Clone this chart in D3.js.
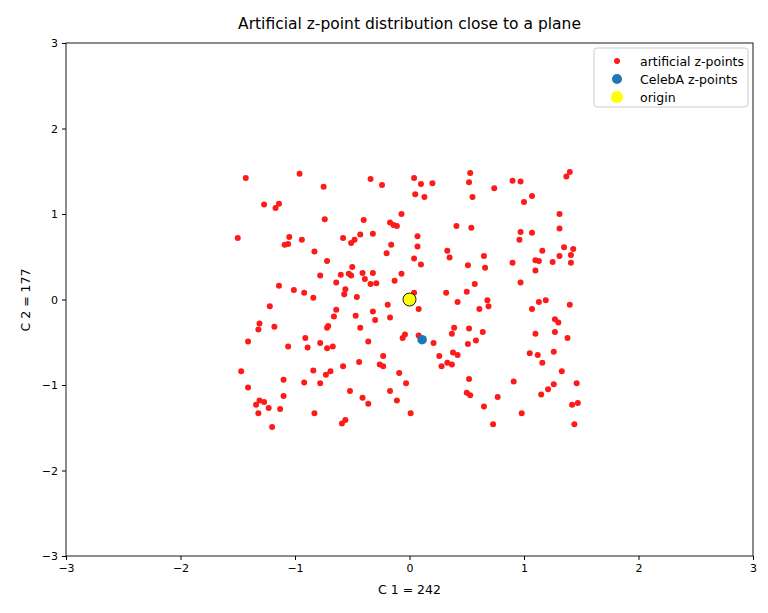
<!DOCTYPE html>
<html><head><meta charset="utf-8">
<script src="https://cdn.jsdelivr.net/npm/d3@7"></script>
<style>body{margin:0;background:#fff}svg{font-family:"DejaVu Sans",sans-serif}</style>
</head><body><svg id="c" width="768" height="613"></svg>
<script>
const artX=[-1.43,-0.96,-0.75,-0.34,-0.24,-1.27,-1.14,-1.17,-0.74,-0.40,-0.07,-0.17,-0.14,-0.11,-1.50,-1.05,-1.09,-1.06,-0.94,-0.58,-0.48,-0.51,-0.43,-0.32,-0.16,-0.20,-0.83,-0.72,-0.50,-0.78,-0.60,-0.53,-0.51,-0.41,-0.32,-0.07,-0.39,-0.64,-0.34,-0.29,-0.13,-1.14,-1.01,-0.92,-0.56,-0.57,-0.84,-0.46,
0.04,0.10,0.20,0.53,0.52,0.74,0.90,0.97,1.40,1.37,0.05,0.13,0.55,1.07,1.00,1.31,0.41,0.54,1.31,0.07,0.97,1.07,0.96,0.07,0.33,0.35,0.65,1.16,1.35,1.43,1.31,1.41,0.04,0.10,0.51,0.66,0.90,1.10,1.13,1.25,1.41,1.10,0.57,0.97,0.04,0.32,0.50,
-1.22,-0.64,-0.66,-0.47,-0.32,-0.30,-0.19,-0.17,-1.31,-1.32,-1.18,-0.71,-0.72,-0.43,-0.04,-0.06,-1.41,-1.06,-0.91,-0.89,-0.78,-0.72,-0.67,-0.36,-0.23,-0.26,-0.23,-0.44,-0.58,-0.84,-0.73,-0.69,-1.47,-1.10,-0.92,-0.78,-0.09,-0.03,-1.41,-0.52,-0.17,-1.10,-1.31,-1.27,-1.34,-1.23,-1.13,-0.41,-0.36,-0.11,-1.32,-0.83,-0.56,-0.59,-1.20,
0.08,0.42,0.61,0.69,0.68,1.13,1.19,1.07,1.40,1.27,1.30,0.08,0.21,0.39,0.52,0.37,0.64,0.58,0.51,1.10,1.27,1.38,0.26,0.38,0.42,0.33,0.37,0.28,1.05,1.12,1.26,1.16,1.33,0.52,0.91,1.46,1.26,1.21,1.15,0.50,0.53,0.77,0.65,1.42,1.47,0.01,0.98,0.73,1.44];
const artY=[1.42,1.47,1.32,1.41,1.34,1.11,1.12,1.07,0.94,0.93,1.00,0.90,0.87,0.86,0.72,0.73,0.64,0.65,0.70,0.72,0.70,0.66,0.76,0.77,0.64,0.54,0.56,0.45,0.38,0.28,0.29,0.30,0.28,0.31,0.31,0.30,0.24,0.20,0.18,0.19,0.22,0.16,0.11,0.08,0.12,0.06,0.02,0.03,
1.42,1.35,1.36,1.48,1.37,1.30,1.39,1.38,1.49,1.44,1.23,1.20,1.20,1.21,1.14,1.00,0.86,0.84,0.83,0.74,0.79,0.78,0.70,0.62,0.57,0.49,0.51,0.57,0.61,0.59,0.51,0.52,0.48,0.41,0.40,0.37,0.43,0.46,0.45,0.44,0.43,0.34,0.18,0.20,0.08,0.08,0.09,
-0.08,-0.12,-0.20,-0.19,-0.14,-0.24,-0.06,-0.21,-0.28,-0.35,-0.32,-0.31,-0.33,-0.33,-0.41,-0.45,-0.49,-0.55,-0.45,-0.56,-0.51,-0.57,-0.55,-0.49,-0.66,-0.76,-0.78,-0.73,-0.78,-0.83,-0.88,-0.84,-0.84,-0.94,-0.97,-0.98,-0.86,-0.98,-1.03,-1.07,-1.07,-1.13,-1.18,-1.20,-1.23,-1.27,-1.28,-1.15,-1.22,-1.18,-1.33,-1.33,-1.41,-1.45,-1.49,
-0.11,-0.03,-0.11,-0.08,-0.01,-0.03,-0.01,-0.11,-0.06,-0.23,-0.27,-0.42,-0.51,-0.33,-0.34,-0.40,-0.38,-0.48,-0.52,-0.40,-0.38,-0.45,-0.66,-0.62,-0.65,-0.74,-0.76,-0.78,-0.63,-0.65,-0.61,-0.74,-0.84,-0.93,-0.96,-0.98,-0.99,-1.05,-1.11,-1.09,-1.12,-1.14,-1.25,-1.23,-1.21,-1.33,-1.33,-1.46,-1.46];
const celebX=[0.11], celebY=[-0.47];
const originX=[0], originY=[0];
const ticks=[-3,-2,-1,0,1,2,3];
const svg=d3.select("#c");
const L=66,R=753,T=43,B=556;
const x=d3.scaleLinear().domain([-3,3]).range([L,R]);
const y=d3.scaleLinear().domain([-3,3]).range([B,T]);
svg.append("g").attr("transform",`translate(0,${B})`).call(d3.axisBottom(x).tickValues(ticks).tickSize(4).tickPadding(4).tickFormat(d=>d<0?"−"+(-d):d))
 .call(g=>{g.select(".domain").remove();g.selectAll("text").attr("font-size",11).attr("font-family","DejaVu Sans").attr("fill","#000");});
svg.append("g").attr("transform",`translate(${L},0)`).call(d3.axisLeft(y).tickValues(ticks).tickSize(4).tickPadding(4).tickFormat(d=>d<0?"−"+(-d):d))
 .call(g=>{g.select(".domain").remove();g.selectAll("text").attr("font-size",11).attr("font-family","DejaVu Sans").attr("fill","#000");});
svg.append("rect").attr("x",L).attr("y",T).attr("width",R-L).attr("height",B-T).attr("fill","none").attr("stroke","#000").attr("stroke-width",0.9);
svg.append("g").selectAll("circle").data(artX.map((v,i)=>[v,artY[i]])).join("circle")
 .attr("cx",d=>x(d[0])).attr("cy",d=>y(d[1])).attr("r",3).attr("fill","#ff1a1a");
svg.append("g").selectAll("circle").data(celebX.map((v,i)=>[v,celebY[i]])).join("circle")
 .attr("cx",d=>x(d[0])).attr("cy",d=>y(d[1])).attr("r",4.8).attr("fill","#1f77b4");
svg.append("g").selectAll("circle").data(originX.map((v,i)=>[v,originY[i]])).join("circle")
 .attr("cx",d=>x(d[0])).attr("cy",d=>y(d[1])).attr("r",6.5).attr("fill","#ffff00").attr("stroke","#000").attr("stroke-width",0.9);
svg.append("text").attr("x",(L+R)/2).attr("y",29).attr("text-anchor","middle").attr("font-size",15.5).text("Artificial z-point distribution close to a plane");
svg.append("text").attr("x",(L+R)/2).attr("y",594).attr("text-anchor","middle").attr("font-size",12.5).text("C 1 = 242");
svg.append("text").attr("transform","translate(30,300) rotate(-90)").attr("text-anchor","middle").attr("font-size",12.5).text("C 2 = 177");
const lg=svg.append("g");
lg.append("rect").attr("x",594).attr("y",48).attr("width",154).attr("height",59).attr("rx",3).attr("fill","#fff").attr("stroke","#ccc");
const items=[["artificial z-points","#ff1a1a",3],["CelebA z-points","#1f77b4",5],["origin","#ffff00",6]];
items.forEach((it,i)=>{const cy=61+i*18;
 lg.append("circle").attr("cx",617).attr("cy",cy).attr("r",it[2]).attr("fill",it[1]);
 lg.append("text").attr("x",640).attr("y",cy+4.5).attr("font-size",12.5).text(it[0]);});
</script></body></html>
